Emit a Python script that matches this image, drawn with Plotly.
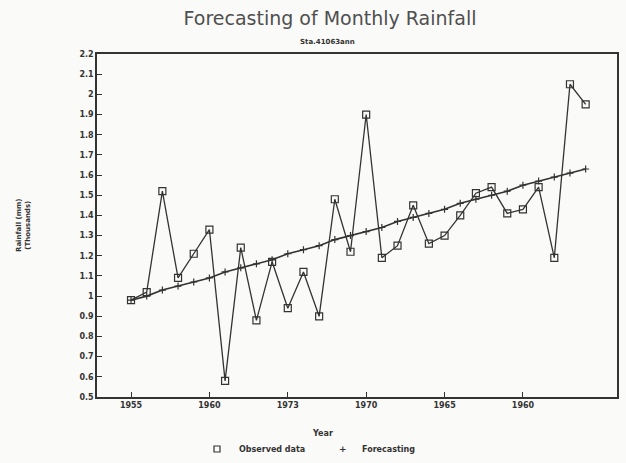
import plotly.graph_objects as go

years = list(range(1955, 1985))
observed = [0.98, 1.02, 1.52, 1.09, 1.21, 1.33, 0.58, 1.24, 0.88, 1.17,
            0.94, 1.12, 0.90, 1.48, 1.22, 1.90, 1.19, 1.25, 1.45, 1.26,
            1.30, 1.40, 1.51, 1.54, 1.41, 1.43, 1.54, 1.19, 2.05, 1.95]
forecast = [0.98, 1.00, 1.03, 1.05, 1.07, 1.09, 1.12, 1.14, 1.16, 1.18,
            1.21, 1.23, 1.25, 1.28, 1.30, 1.32, 1.34, 1.37, 1.39, 1.41,
            1.43, 1.46, 1.48, 1.50, 1.52, 1.55, 1.57, 1.59, 1.61, 1.63]
x_tickvals = [1955, 1960, 1965, 1970, 1975, 1980]
x_ticktext = ["1955", "1960", "1973", "1970", "1965", "1960"]
y_tickvals = [0.5, 0.6, 0.7, 0.8, 0.9, 1.0, 1.1, 1.2, 1.3, 1.4, 1.5, 1.6,
              1.7, 1.8, 1.9, 2.0, 2.1, 2.2]
y_ticktext = ["0.5", "0.6", "0.7", "0.8", "0.9", "1", "1.1", "1.2", "1.3",
              "1.4", "1.5", "1.6", "1.7", "1.8", "1.9", "2", "2.1", "2.2"]
series_names = ["Observed data", "Forecasting"]

ink = "#333333"
W, H = 626, 463
L, R, T, B = 97, 9, 54, 66
PW, PH = W - L - R, H - T - B


def px(xp):
    return (xp - L) / PW


def py(yp):
    return (H - B - yp) / PH


fig = go.Figure()
fig.add_trace(go.Scatter(
    x=years, y=observed, mode="lines+markers", name=series_names[0],
    line=dict(color=ink, width=1.3),
    marker=dict(symbol="square-open", size=7, color=ink, line=dict(width=1.2)),
))
fig.add_trace(go.Scatter(
    x=years, y=forecast, mode="lines+markers", name=series_names[1],
    line=dict(color=ink, width=1.6),
    marker=dict(symbol="cross-thin", size=5, color=ink, line=dict(width=1.2, color=ink)),
))

font_main = "DejaVu Sans"
fig.update_layout(
    width=W, height=H,
    margin=dict(l=L, r=R, t=T, b=B, autoexpand=False),
    paper_bgcolor="#fafaf8", plot_bgcolor="#fafaf8",
    font=dict(family=font_main, color=ink, size=8),
    title=dict(text="Forecasting of Monthly Rainfall", x=330 / W, xanchor="center",
               y=1 - 18 / H, yanchor="middle", yref="container",
               font=dict(size=19, color="#4f4f4f", family=font_main)),
    showlegend=False,
    xaxis=dict(range=[1952.83, 1986.0], tickvals=x_tickvals, ticktext=x_ticktext,
               ticks="inside", ticklen=5, tickcolor=ink, showgrid=False, zeroline=False,
               showline=True, linecolor=ink, linewidth=1.5, mirror=True,
               tickfont=dict(size=8, color=ink, weight="bold"), automargin=False),
    yaxis=dict(range=[0.5, 2.2], tickvals=y_tickvals, ticktext=y_ticktext,
               ticks="inside", ticklen=5, tickcolor=ink, showgrid=False, zeroline=False,
               showline=True, linecolor=ink, linewidth=1.5, mirror=True,
               tickfont=dict(size=8, color=ink, weight="bold"), automargin=False),
)

ann = dict(xref="paper", yref="paper", showarrow=False, yanchor="middle")
fig.add_annotation(text="Sta.41063ann", x=px(327), y=py(42), xanchor="center",
                   font=dict(size=7, color=ink, weight="bold"), **ann)
fig.add_annotation(text="Rainfall (mm)<br>(Thousands)", x=px(24), y=py(225),
                   xanchor="center", textangle=-90,
                   font=dict(size=7, color=ink, weight="bold"), **ann)
fig.add_annotation(text="Year", x=px(322), y=py(433), xanchor="center",
                   font=dict(size=8, color=ink, weight="bold"), **ann)
# legend
fig.add_shape(type="rect", xref="paper", yref="paper",
              x0=px(214), x1=px(220), y0=py(452), y1=py(446),
              line=dict(color=ink, width=1.2))
fig.add_annotation(text=series_names[0], x=px(237), y=py(449), xanchor="left",
                   font=dict(size=8, color=ink, weight="bold"), **ann)
fig.add_annotation(text="+", x=px(343), y=py(449), xanchor="center",
                   font=dict(size=9, color=ink, weight="bold"), **ann)
fig.add_annotation(text=series_names[1], x=px(360), y=py(449), xanchor="left",
                   font=dict(size=8, color=ink, weight="bold"), **ann)

fig.write_html("out.html", config={"displayModeBar": False},
               post_script="document.body.style.margin='0px';document.body.style.overflow='hidden';")
